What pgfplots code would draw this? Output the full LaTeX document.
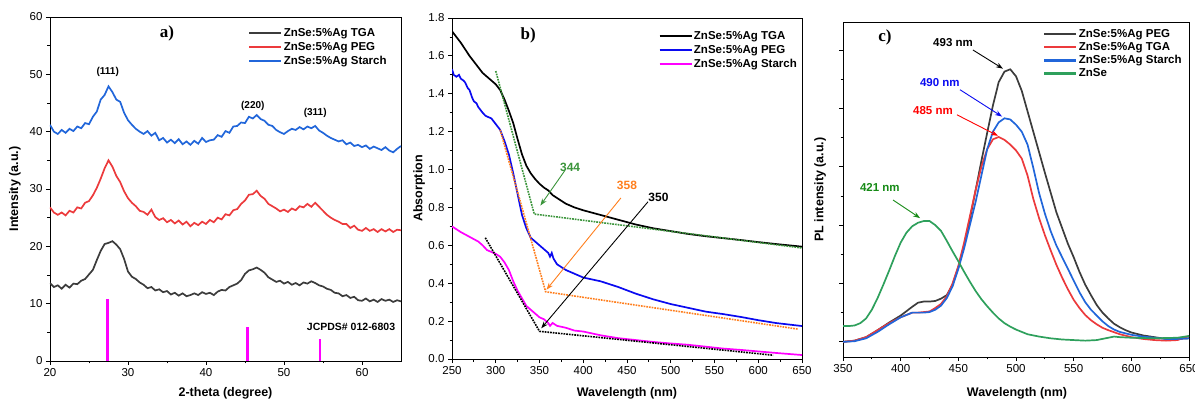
\documentclass[border=0pt]{standalone}
\usepackage{pgfplots}
\pgfplotsset{compat=1.18}
\usepackage{fontspec}
\setmainfont{Liberation Sans}
\newfontfamily\seriffont{Liberation Serif}
\usetikzlibrary{arrows.meta}

\definecolor{cgray}{HTML}{3C3C3C}
\definecolor{cred}{HTML}{EC3A3C}
\definecolor{cblue}{HTML}{2166DA}
\definecolor{bblue}{HTML}{0A0AF0}
\definecolor{bmag}{HTML}{FF00FF}
\definecolor{bgreen}{HTML}{3A943A}
\definecolor{borange}{HTML}{FF7F1E}
\definecolor{cgreen}{HTML}{2EA05C}
\definecolor{dgreen}{HTML}{158A15}

\pgfplotsset{
  myaxis/.style={
    scale only axis,
    axis line style={line width=0.9pt},
    tick style={line width=0.8pt, black},
    tick align=outside,
    xtick pos=lower, ytick pos=left,
    major tick length=4pt, minor tick length=2.5pt,
    /pgf/number format/assume math mode=true,
    tick label style={font=\fontsize{11.5}{13}\selectfont},
    label style={font=\bfseries\fontsize{12.5}{14}\selectfont},
    legend style={draw=none, fill=none, font=\bfseries\fontsize{11.5}{13}\selectfont,
      row sep=4.5pt, inner sep=0pt, /tikz/every even column/.append style={column sep=0pt},
      nodes={inner xsep=1pt, inner ysep=0pt}},
    legend cell align=left,
    legend image code/.code={\draw[#1, line width=2.6pt] (0pt,0pt) -- (32pt,0pt);},
    every axis plot/.append style={line width=1.7pt},
  }
}

\begin{document}
\begin{tikzpicture}
\path[use as bounding box] (0,0) rectangle (1195pt,399pt);

%%%%%%%%%%%%%%%%%%%% a)
\begin{axis}[myaxis,
  at={(50pt,38pt)}, anchor=south west, width=351pt, height=344pt,
  xmin=20, xmax=65, ymin=0, ymax=60,
  xtick={20,30,40,50,60}, ytick={0,10,...,60},
  minor x tick num=1, minor y tick num=1,
  xlabel={2-theta (degree)}, ylabel={Intensity (a.u.)},
  xlabel style={at={(axis description cs:0.5,-0.093)}, anchor=center},
  ylabel style={at={(axis description cs:-0.1,0.5)}, anchor=center, rotate=0},
  legend style={at={(0.564,0.968)}, anchor=north west},
]
\addplot[cgray] coordinates {
(20,13.6)(20.5,12.9)(21,13.2)(21.5,12.6)(22,13.3)(22.5,12.8)(23,13.5)(23.5,13.4)(24,14.0)(24.5,14.3)
(25,15.1)(25.5,15.9)(26,17.6)(26.5,19.2)(27,20.4)(27.5,20.6)(28,20.9)(28.5,20.3)(29,19.5)(29.5,17.8)
(30,15.6)(30.5,14.7)(31,14.3)(31.5,13.7)(32,13.3)(32.5,12.7)(33,12.9)(33.5,12.3)(34,12.5)(34.5,12.0)
(35,12.2)(35.5,11.6)(36,11.9)(36.5,11.4)(37,11.8)(37.5,11.3)(38,11.5)(38.5,11.8)(39,11.5)(39.5,12.0)
(40,11.7)(40.5,11.9)(41,11.5)(41.5,12.1)(42,12.4)(42.5,12.3)(43,12.9)(43.5,13.2)(44,13.5)(44.5,14.1)
(45,15.2)(45.5,15.8)(46,16.0)(46.5,16.3)(47,15.9)(47.5,15.4)(48,14.6)(48.5,14.2)(49,13.8)(49.5,14.0)
(50,13.5)(50.5,13.8)(51,13.3)(51.5,13.6)(52,13.2)(52.5,13.7)(53,13.5)(53.5,13.9)(54,13.6)(54.5,13.2)
(55,13.0)(55.5,12.6)(56,12.4)(56.5,11.9)(57,11.8)(57.5,11.3)(58,11.5)(58.5,11.0)(59,11.2)(59.5,10.6)
(60,10.5)(60.5,10.9)(61,10.4)(61.5,10.7)(62,10.3)(62.5,10.8)(63,10.5)(63.5,10.7)(64,10.3)(64.5,10.6)(65,10.4)};
\addlegendentry{ZnSe:5\%Ag TGA}
\addplot[cred] coordinates {
(20,26.8)(20.5,25.9)(21,25.5)(21.5,25.9)(22,25.4)(22.5,26.2)(23,25.9)(23.5,26.8)(24,26.6)(24.5,27.6)
(25,27.9)(25.5,28.9)(26,30.2)(26.5,31.8)(27,33.6)(27.5,35.0)(28,33.9)(28.5,32.3)(29,31.2)(29.5,29.6)
(30,28.4)(30.5,27.6)(31,27.0)(31.5,26.2)(32,26.0)(32.5,25.5)(33,26.4)(33.5,25.1)(34,24.6)(34.5,24.9)
(35,24.2)(35.5,24.6)(36,24.0)(36.5,24.5)(37,23.8)(37.5,24.3)(38,23.5)(38.5,24.1)(39,23.7)(39.5,24.3)
(40,23.9)(40.5,24.6)(41,24.2)(41.5,25.0)(42,24.7)(42.5,25.6)(43,25.4)(43.5,26.3)(44,26.5)(44.5,27.4)
(45,28.0)(45.5,29.0)(46,29.1)(46.5,29.7)(47,28.8)(47.5,28.3)(48,27.4)(48.5,27.0)(49,26.6)(49.5,26.1)
(50,26.4)(50.5,26.0)(51,26.6)(51.5,26.3)(52,27.0)(52.5,26.8)(53,27.4)(53.5,26.9)(54,27.6)(54.5,26.9)
(55,26.2)(55.5,25.5)(56,25.0)(56.5,24.6)(57,24.3)(57.5,23.9)(58,23.9)(58.5,23.2)(59,23.6)(59.5,22.9)
(60,22.7)(60.5,23.2)(61,22.7)(61.5,23.0)(62,22.5)(62.5,23.0)(63,22.6)(63.5,23.0)(64,22.5)(64.5,22.9)(65,22.8)};
\addlegendentry{ZnSe:5\%Ag PEG}
\addplot[cblue] coordinates {
(20,41.2)(20.5,40.0)(21,39.6)(21.5,40.3)(22,39.8)(22.5,40.5)(23,40.1)(23.5,40.9)(24,40.6)(24.5,41.5)
(25,41.3)(25.5,42.6)(26,43.5)(26.5,45.6)(27,46.4)(27.5,47.9)(28,46.9)(28.5,45.6)(29,45.2)(29.5,43.3)
(30,42.0)(30.5,41.2)(31,40.5)(31.5,40.0)(32,39.6)(32.5,40.1)(33,39.3)(33.5,39.8)(34,38.5)(34.5,38.9)
(35,38.1)(35.5,38.6)(36,38.0)(36.5,38.7)(37,37.8)(37.5,38.3)(38,37.7)(38.5,38.4)(39,37.9)(39.5,38.9)
(40,38.2)(40.5,38.5)(41,38.6)(41.5,39.4)(42,39.1)(42.5,40.1)(43,39.8)(43.5,40.9)(44,41.0)(44.5,41.6)
(45,41.5)(45.5,42.6)(46,42.3)(46.5,42.9)(47,42.2)(47.5,41.9)(48,41.2)(48.5,41.0)(49,40.3)(49.5,39.9)
(50,39.6)(50.5,40.1)(51,40.5)(51.5,40.3)(52,40.8)(52.5,40.4)(53,40.9)(53.5,40.6)(54,41.0)(54.5,40.2)
(55,39.8)(55.5,39.3)(56,38.9)(56.5,38.6)(57,38.3)(57.5,38.5)(58,37.8)(58.5,38.1)(59,37.5)(59.5,37.7)
(60,37.3)(60.5,37.6)(61,37.0)(61.5,37.4)(62,37.1)(62.5,36.8)(63,37.3)(63.5,36.7)(64,36.4)(64.5,37.0)(65,37.5)};
\addlegendentry{ZnSe:5\%Ag Starch}
\addplot[ycomb, bmag, line width=2.5pt, forget plot] coordinates {(27.4,10.9)(45.3,5.9)(54.6,3.8)};
\node[font=\seriffont\bfseries\fontsize{17}{19}\selectfont] at (axis cs:35.0,57.2) {a)};
\node[font=\bfseries\fontsize{10}{12}\selectfont] at (axis cs:27.4,50.4) {(111)};
\node[font=\bfseries\fontsize{10}{12}\selectfont] at (axis cs:46.0,44.5) {(220)};
\node[font=\bfseries\fontsize{10}{12}\selectfont] at (axis cs:54.0,43.3) {(311)};
\node[font=\bfseries\fontsize{10.5}{12}\selectfont, anchor=east] at (axis cs:64.7,5.9) {JCPDS\# 012-6803};
\end{axis}

%%%%%%%%%%%%%%%%%%%% b)
\begin{axis}[myaxis,
  at={(452pt,40pt)}, anchor=south west, width=350pt, height=341pt,
  xmin=250, xmax=650, ymin=0, ymax=1.8,
  xtick={250,300,...,650}, ytick={0,0.2,...,1.8},
  yticklabel style={/pgf/number format/.cd, fixed, fixed zerofill, precision=1},
  minor x tick num=1, minor y tick num=1,
  xlabel={Wavelength (nm)}, ylabel={Absorption},
  xlabel style={at={(axis description cs:0.5,-0.1)}, anchor=center},
  ylabel style={at={(axis description cs:-0.094,0.5)}, anchor=center},
  legend style={at={(0.589,0.962)}, anchor=north west},
]
\addplot[black] coordinates {
(250,1.73)(255,1.70)(260,1.67)(265,1.635)(270,1.60)(275,1.57)(280,1.54)(285,1.51)(290,1.49)(295,1.47)
(300,1.45)(305,1.42)(310,1.37)(315,1.31)(320,1.245)(325,1.16)(330,1.08)(335,1.02)(340,0.98)(345,0.95)
(350,0.925)(355,0.905)(360,0.89)(365,0.865)(370,0.85)(380,0.82)(390,0.80)(400,0.785)(420,0.76)
(440,0.735)(460,0.71)(480,0.69)(500,0.675)(520,0.66)(540,0.648)(560,0.638)(580,0.628)(600,0.617)
(620,0.607)(650,0.593)};
\addlegendentry{ZnSe:5\%Ag TGA}
\addplot[bblue] coordinates {
(250,1.53)(252,1.50)(255,1.49)(258,1.50)(260,1.48)(263,1.47)(265,1.46)(268,1.43)(270,1.42)(273,1.38)
(275,1.36)(278,1.35)(280,1.33)(285,1.30)(288,1.285)(290,1.28)(295,1.27)(300,1.24)(305,1.21)(310,1.15)
(315,1.08)(320,0.98)(325,0.87)(330,0.76)(335,0.69)(340,0.64)(345,0.62)(350,0.60)(355,0.58)(360,0.56)
(362,0.54)(364,0.56)(366,0.53)(370,0.50)(380,0.47)(390,0.45)(400,0.43)(420,0.41)(440,0.38)(460,0.345)
(480,0.315)(500,0.29)(520,0.27)(540,0.25)(560,0.237)(580,0.222)(600,0.205)(620,0.19)(650,0.174)};
\addlegendentry{ZnSe:5\%Ag PEG}
\addplot[bmag] coordinates {
(250,0.70)(260,0.67)(270,0.645)(280,0.62)(285,0.60)(290,0.575)(300,0.555)(305,0.54)(310,0.51)(315,0.47)
(320,0.41)(325,0.36)(330,0.32)(335,0.28)(340,0.26)(345,0.24)(350,0.22)(355,0.21)(360,0.19)(362,0.175)
(365,0.19)(370,0.175)(380,0.165)(390,0.15)(400,0.145)(420,0.125)(440,0.11)(460,0.10)(480,0.09)
(500,0.082)(520,0.075)(540,0.065)(560,0.055)(580,0.048)(600,0.04)(620,0.032)(650,0.021)};
\addlegendentry{ZnSe:5\%Ag Starch}
\addplot[bgreen, densely dotted, line width=1.6pt, forget plot] coordinates {(300,1.52)(344,0.765)(650,0.586)};
\addplot[borange, densely dotted, line width=1.6pt, forget plot] coordinates {(305,1.21)(357,0.355)(645,0.158)};
\addplot[black, densely dotted, line width=1.6pt, forget plot] coordinates {(288,0.64)(350,0.146)(617,0.02)};
\draw[bgreen, line width=0.9pt, -{Stealth[length=7pt,width=5pt]}] (axis cs:379,0.995) -- (axis cs:351,0.81);
\draw[borange, line width=0.9pt, -{Stealth[length=7pt,width=5pt]}] (axis cs:443,0.85) -- (axis cs:358,0.366);
\draw[black, line width=0.9pt, -{Stealth[length=7pt,width=5pt]}] (axis cs:474,0.83) -- (axis cs:352,0.162);
\node[font=\seriffont\bfseries\fontsize{17}{19}\selectfont] at (axis cs:337,1.71) {b)};
\node[font=\bfseries\fontsize{12}{14}\selectfont, text=bgreen] at (axis cs:385,1.014) {344};
\node[font=\bfseries\fontsize{12}{14}\selectfont, text=borange] at (axis cs:450,0.919) {358};
\node[font=\bfseries\fontsize{12}{14}\selectfont, text=black] at (axis cs:486,0.855) {350};
\end{axis}

%%%%%%%%%%%%%%%%%%%% c)
\begin{axis}[myaxis,
  at={(843pt,42pt)}, anchor=south west, width=346pt, height=335pt,
  xmin=350, xmax=650, ymin=-0.26, ymax=5.48,
  xtick={350,400,...,650}, ytick={0,1,...,5}, yticklabels={},
  minor x tick num=1, minor y tick num=1,
  xlabel={Wavelength (nm)}, ylabel={PL intensity (a.u.)},
  xlabel style={at={(axis description cs:0.503,-0.107)}, anchor=center},
  ylabel style={at={(axis description cs:-0.066,0.5)}, anchor=center},
  legend style={at={(0.578,0.979)}, anchor=north west, row sep=3.5pt},
]
\addplot[cgray] coordinates {
(350,0)(360,0.02)(370,0.08)(380,0.2)(390,0.33)(400,0.45)(410,0.6)(415,0.67)(420,0.69)(425,0.69)
(430,0.70)(435,0.74)(440,0.80)(445,0.98)(450,1.28)(455,1.65)(460,2.1)(465,2.6)(470,3.1)(475,3.58)
(480,4.05)(485,4.45)(490,4.63)(495,4.67)(500,4.55)(505,4.3)(510,3.95)(515,3.6)(520,3.25)(525,2.9)
(530,2.56)(535,2.22)(540,1.95)(545,1.68)(550,1.45)(555,1.2)(560,0.98)(565,0.8)(570,0.63)(575,0.5)
(580,0.4)(585,0.31)(590,0.25)(595,0.2)(600,0.16)(610,0.11)(620,0.08)(630,0.05)(640,0.05)(650,0.06)};
\addlegendentry{ZnSe:5\%Ag PEG}
\addplot[cred] coordinates {
(350,0)(360,0.02)(370,0.08)(380,0.2)(390,0.32)(400,0.42)(410,0.5)(415,0.5)(420,0.51)(425,0.52)
(430,0.58)(435,0.65)(440,0.78)(445,1.0)(450,1.3)(455,1.7)(460,2.15)(465,2.6)(470,3.0)(475,3.3)
(480,3.47)(485,3.51)(490,3.46)(495,3.38)(500,3.28)(505,3.14)(510,2.85)(515,2.45)(520,2.12)(525,1.83)
(530,1.57)(535,1.32)(540,1.1)(545,0.9)(550,0.72)(555,0.58)(560,0.46)(565,0.37)(570,0.3)(575,0.24)
(580,0.2)(590,0.13)(600,0.08)(610,0.05)(620,0.03)(630,0.02)(640,0.03)(650,0.1)};
\addlegendentry{ZnSe:5\%Ag TGA}
\addplot[cblue] coordinates {
(350,0)(360,0.01)(370,0.06)(380,0.17)(390,0.3)(400,0.42)(410,0.5)(415,0.5)(420,0.5)(425,0.51)
(430,0.55)(435,0.62)(440,0.75)(445,0.95)(450,1.25)(455,1.6)(460,2.0)(465,2.4)(470,2.85)(475,3.3)
(480,3.6)(485,3.76)(490,3.83)(495,3.81)(500,3.72)(505,3.6)(510,3.38)(515,2.98)(520,2.55)(525,2.2)
(530,1.9)(535,1.65)(540,1.45)(545,1.25)(550,1.05)(555,0.85)(560,0.68)(565,0.55)(570,0.45)(575,0.35)
(580,0.27)(585,0.21)(590,0.17)(600,0.12)(610,0.09)(620,0.07)(630,0.05)(640,0.05)(650,0.06)};
\addlegendentry{ZnSe:5\%Ag Starch}
\addplot[cgreen] coordinates {
(350,0.27)(355,0.27)(360,0.28)(365,0.32)(370,0.4)(375,0.55)(380,0.75)(385,0.98)(390,1.22)(395,1.47)
(400,1.7)(405,1.87)(410,1.98)(415,2.04)(420,2.07)(425,2.07)(430,2.0)(435,1.9)(440,1.73)(445,1.55)
(450,1.38)(455,1.2)(460,1.03)(465,0.87)(470,0.73)(475,0.61)(480,0.5)(485,0.4)(490,0.32)(495,0.26)
(500,0.21)(510,0.13)(520,0.09)(530,0.06)(540,0.04)(550,0.03)(560,0.02)(570,0.03)(580,0.07)(585,0.09)
(590,0.08)(600,0.07)(620,0.06)(640,0.07)(650,0.1)};
\addlegendentry{ZnSe}
\draw[black, line width=0.9pt, -{Stealth[length=7pt,width=5pt]}] (axis cs:462.7,5.0) -- (axis cs:488.7,4.68);
\draw[bblue, line width=0.9pt, -{Stealth[length=7pt,width=5pt]}] (axis cs:451.4,4.32) -- (axis cs:487.9,3.86);
\draw[red, line width=0.9pt, -{Stealth[length=7pt,width=5pt]}] (axis cs:448.8,3.89) -- (axis cs:484.4,3.53);
\draw[dgreen, line width=0.9pt, -{Stealth[length=7pt,width=5pt]}] (axis cs:393.4,2.43) -- (axis cs:416.8,2.12);
\node[font=\seriffont\bfseries\fontsize{17}{19}\selectfont] at (axis cs:386.4,5.21) {c)};
\node[font=\bfseries\fontsize{11.5}{13}\selectfont] at (axis cs:445.4,5.12) {493 nm};
\node[font=\bfseries\fontsize{11.5}{13}\selectfont, text=bblue] at (axis cs:434,4.45) {490 nm};
\node[font=\bfseries\fontsize{11.5}{13}\selectfont, text=red] at (axis cs:428,3.97) {485 nm};
\node[font=\bfseries\fontsize{11.5}{13}\selectfont, text=dgreen] at (axis cs:382,2.65) {421 nm};
\end{axis}
\end{tikzpicture}
\end{document}
